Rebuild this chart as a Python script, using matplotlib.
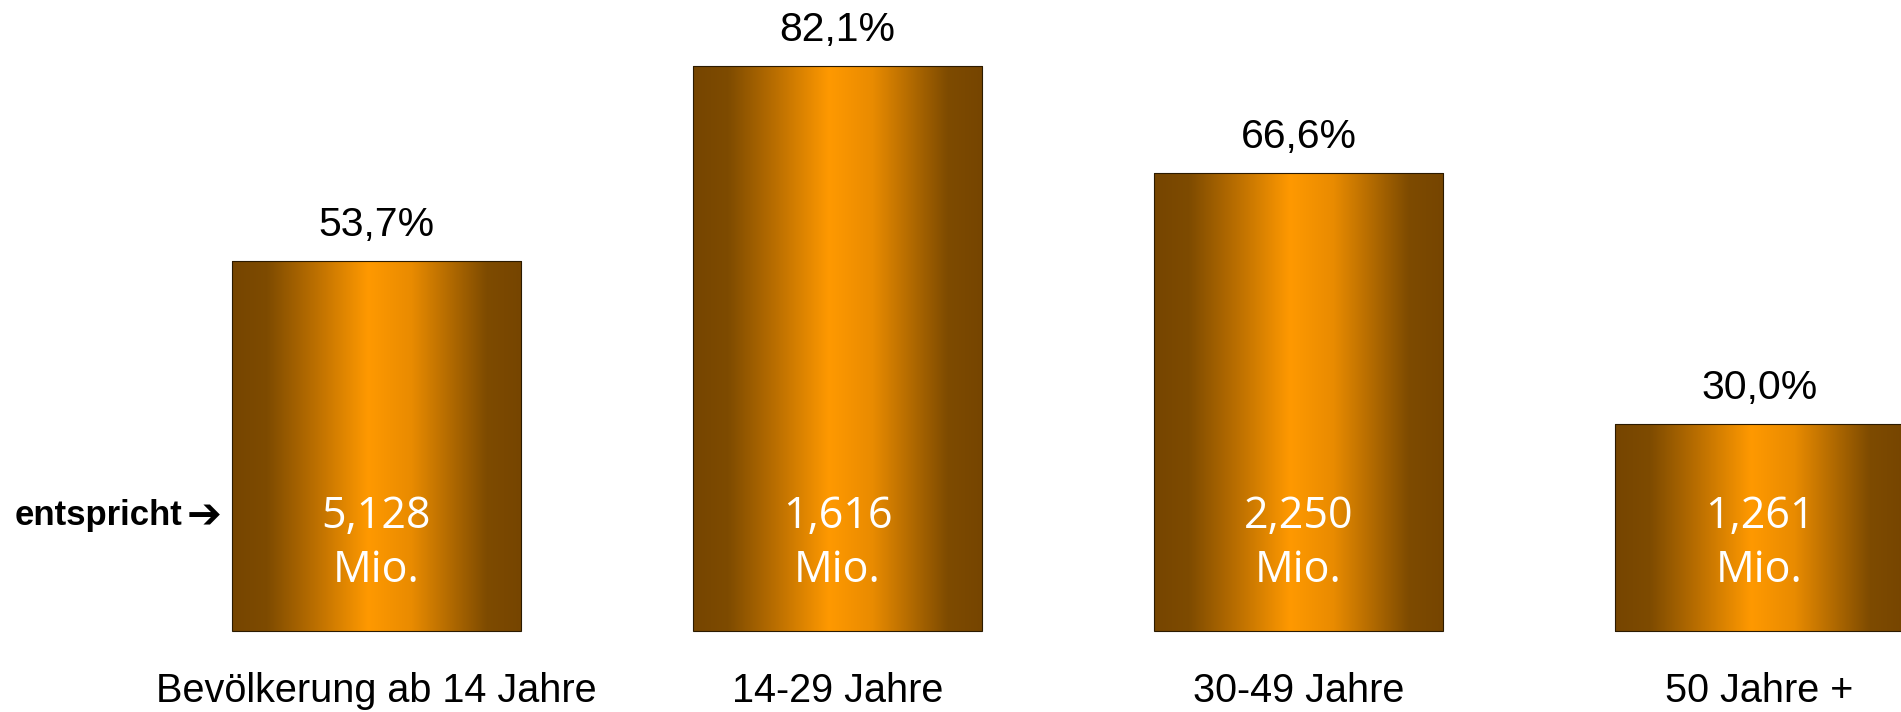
import numpy as np
import matplotlib
matplotlib.use("Agg")
import matplotlib.pyplot as plt
from matplotlib.colors import LinearSegmentedColormap

# data
categories = ["Bevölkerung ab 14 Jahre", "14-29 Jahre", "30-49 Jahre", "50 Jahre +"]
shares     = [53.7, 82.1, 66.6, 30.0]
share_text = ["53,7%", "82,1%", "66,6%", "30,0%"]
mio_text   = ["5,128", "1,616", "2,250", "1,261"]

# cylinder-like shading across each bar
stops = [(0.00, "#764500"), (0.12, "#7e4b00"), (0.30, "#c07200"),
         (0.47, "#ff9900"), (0.62, "#e98b00"), (0.88, "#7e4b00"), (1.00, "#764500")]
shade = LinearSegmentedColormap.from_list("shade", stops)

fig = plt.figure(figsize=(19.01, 7.12), dpi=100)
ax = fig.add_axes([0, 0, 1, 1])
ax.axis("off")

x = np.arange(len(categories))
width = 0.627
bars = ax.bar(x, shares, width=width, facecolor="none", edgecolor="#2b1a00",
              linewidth=0.8, zorder=3)

grad = np.linspace(0, 1, 256).reshape(1, -1)
for b in bars:
    x0, y0 = b.get_x(), b.get_y()
    im = ax.imshow(grad, cmap=shade, aspect="auto", zorder=2,
                   extent=(x0, x0 + b.get_width(), y0, y0 + b.get_height()))
    im.set_clip_path(b)

arial = ["Liberation Sans", "DejaVu Sans"]
for xi, h, s in zip(x, shares, share_text):
    ax.annotate(s, (xi, h), xytext=(0, 18), textcoords="offset points",
                ha="center", va="baseline", family=arial, fontsize=29.5)

inner = ["Open Sans", "DejaVu Sans"]
for xi, m in zip(x, mio_text):
    ax.text(xi, 16.5, m, ha="center", va="center", color="white",
            family=inner, fontsize=31, zorder=4)
    ax.text(xi, 8.65, "Mio.", ha="center", va="center", color="white",
            family=inner, fontsize=31, zorder=4)

for xi, c in zip(x, categories):
    ax.text(xi, -10.4, c, ha="center", va="baseline", family=arial, fontsize=28.5)

ax.text(-0.785, 15.3, "entspricht", ha="left", va="baseline",
        family=arial, fontsize=25, fontweight="bold")
ax.text(-0.374, 16.6, "\u2794", ha="center", va="center",
        family=["DejaVu Sans"], fontsize=30, fontweight="bold")

ax.set_xlim(-0.8167, 3.307)
ax.set_ylim(-11.85, 91.7)

fig.savefig("out.png", dpi=100, facecolor="white")
